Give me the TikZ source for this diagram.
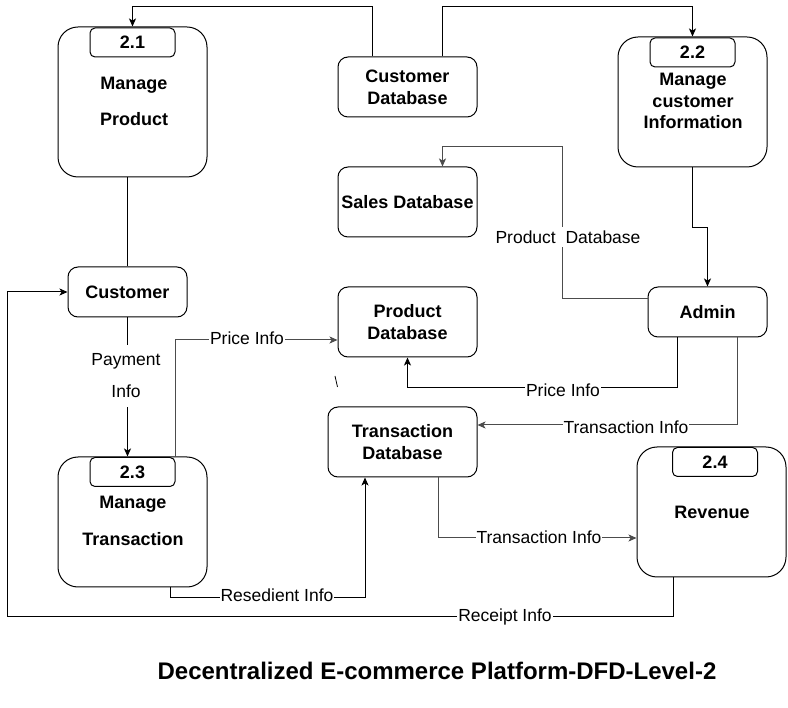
\documentclass[tikz,border=0pt]{standalone}
\usepackage{fontspec}
\setmainfont{Liberation Sans}
\usetikzlibrary{arrows.meta}

\begin{document}
\begin{tikzpicture}[x=1pt,y=-1pt,
  proc/.style={draw,line width=1pt,rounded corners=20pt,minimum width=149pt,minimum height=130pt,inner sep=0pt},
  store/.style={draw,line width=1pt,rounded corners=10pt,minimum width=139pt,minimum height=70pt,inner sep=0pt,align=center,font=\fontsize{18}{22}\selectfont\bfseries},
  tab/.style={draw,line width=1pt,rounded corners=5pt,minimum width=85pt,minimum height=29pt,inner sep=0pt,font=\fontsize{18}{21}\selectfont\bfseries},
  ptext/.style={align=center,inner sep=0pt,font=\fontsize{18}{21.5}\selectfont\bfseries},
  lbl/.style={fill=white,inner sep=1pt,font=\fontsize{17.5}{20}\selectfont},
  flow/.style={line width=1pt,-{Stealth[length=8pt,width=7pt,inset=2pt]}},
  flowg/.style={flow,draw=black!70},
  plain/.style={line width=1pt}]
\useasboundingbox (0,0) rectangle (788,708);

% Processes
\node[proc,minimum height=150pt] (p21) at (132.5,102) {};
\node[proc] (p22) at (692.5,102) {};
\node[proc] (p23) at (132.5,522) {};
\node[proc] (p24) at (711.5,512) {};
\foreach \id/\n/\x/\y in {21/2.1/132.5/42.5, 22/2.2/692.5/52.5, 23/2.3/132.5/472, 24/2.4/715/462}
  \node[tab] (t\id) at (\x,\y) {\n};
\node[ptext] (p21txt) at (134,101) {Manage\\[14.5pt]Product};
\node[ptext] (p22txt) at (693,101) {Manage\\customer\\Information};
\node[ptext] (p23txt) at (133,521) {Manage\\[15.5pt]Transaction};
\node[ptext] (p24txt) at (712,512) {Revenue};

% Stores and entities
\node[store,minimum height=60pt] (custdb) at (407.5,87) {Customer\\Database};
\node[store] (salesdb) at (407.5,202) {Sales Database};
\node[store] (proddb) at (407.5,322) {Product\\Database};
\node[store,minimum width=149pt] (transdb) at (402.5,442) {Transaction\\Database};
\node[store,minimum width=119pt,minimum height=50pt] (cust) at (127.5,292) {Customer};
\node[store,minimum width=119pt,minimum height=50pt] (admin) at (707.5,312) {Admin};

% Flows
\coordinate (pdb) at (562,147);
\coordinate (rl) at (7,617);
\draw[flow] ([xshift=-35pt]custdb.north) -- ++(0,-50) -| (p21.north);
\draw[flow] ([xshift=35pt]custdb.north) -- ++(0,-50) -| (p22.north);
\draw[plain] (cust.north |- p21.south) -- (cust.north);
\draw[flow] (cust.south) -- (cust.south |- p23.north);
\draw[flow] (p22.south) -- ++(0,60) -| (admin.north);
\draw[flowg] ([yshift=13pt]admin.west) -| (pdb) -| ([xshift=35pt]salesdb.north);
\draw[flow] ([xshift=-30pt]admin.south) -- ++(0,50) -| (proddb.south);
\draw[flowg] ([xshift=30pt]admin.south) |- ([yshift=17pt]transdb.east);
\draw[flowg] (t23.north east) |- ([yshift=-18pt]proddb.west);
\draw[flow] ([xshift=37.5pt]p23.south) -- ++(0,10) -| ([xshift=-37.5pt]transdb.south);
\draw[flowg] ([xshift=35.5pt]transdb.south) |- ([yshift=-26pt]p24.west);
\draw[flow] ([xshift=-38.5pt]p24.south) |- (rl) |- (cust.west);
\draw[plain,line width=0.8pt] (335,376) -- (337.5,387);

% Labels
\node[lbl,align=center,inner ysep=9pt] (lpay) at (126,376) {Payment\\[12pt]Info};
\node[lbl,inner sep=4pt] (lprod) at (568,237) {Product\ \ Database};
\node[lbl] (lprice1) at (563,390) {Price Info};
\node[lbl] (ltrans1) at (626,427) {Transaction Info};
\node[lbl] (lprice2) at (247,338) {Price Info};
\node[lbl] (lres) at (277,595) {Resedient Info};
\node[lbl] (ltrans2) at (539,537) {Transaction Info};
\node[lbl] (lrec) at (505,617) {Receipt Info};

% Title
\node[font=\fontsize{24}{28}\selectfont\bfseries] (title) at (437,671) {Decentralized E-commerce Platform-DFD-Level-2};
\end{tikzpicture}
\end{document}
